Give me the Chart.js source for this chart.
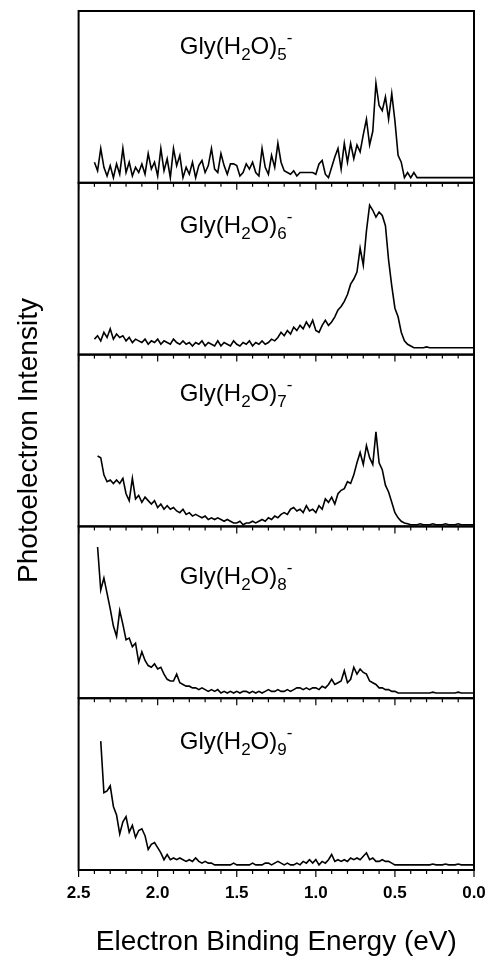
<!DOCTYPE html>
<html>
<head>
<meta charset="utf-8">
<script src="https://cdn.jsdelivr.net/npm/chart.js@4.4.1/dist/chart.umd.min.js"></script>
<style>
  html, body { margin: 0; padding: 0; background: #fff; }
</style>
</head>
<body>
<canvas id="spectra" width="487" height="960"></canvas>
<script>
'use strict';

// electron binding energy (eV), shared by all five spectra
const energies = [
  2.40, 2.38, 2.36, 2.34, 2.32, 2.30, 2.28, 2.26, 2.24, 2.22,
  2.20, 2.18, 2.16, 2.14, 2.12, 2.10, 2.08, 2.06, 2.04, 2.02,
  2.00, 1.98, 1.96, 1.94, 1.92, 1.90, 1.88, 1.86, 1.84, 1.82,
  1.80, 1.78, 1.76, 1.74, 1.72, 1.70, 1.68, 1.66, 1.64, 1.62,
  1.60, 1.58, 1.56, 1.54, 1.52, 1.50, 1.48, 1.46, 1.44, 1.42,
  1.40, 1.38, 1.36, 1.34, 1.32, 1.30, 1.28, 1.26, 1.24, 1.22,
  1.20, 1.18, 1.16, 1.14, 1.12, 1.10, 1.08, 1.06, 1.04, 1.02,
  1.00, 0.98, 0.96, 0.94, 0.92, 0.90, 0.88, 0.86, 0.84, 0.82,
  0.80, 0.78, 0.76, 0.74, 0.72, 0.70, 0.68, 0.66, 0.64, 0.62,
  0.60, 0.58, 0.56, 0.54, 0.52, 0.50, 0.48, 0.46, 0.44, 0.42,
  0.40, 0.38, 0.36, 0.34, 0.32, 0.30, 0.28, 0.26, 0.24, 0.22,
  0.20, 0.18, 0.16, 0.14, 0.12, 0.10, 0.08, 0.06, 0.04, 0.02,
  0.00
];

// intensities, each scaled to its own panel (0 = panel floor, 1 = panel top)
const gly5 = [
  0.12, 0.07, 0.20, 0.09, 0.04, 0.10, 0.03, 0.11, 0.05, 0.20,
  0.06, 0.12, 0.04, 0.09, 0.06, 0.11, 0.05, 0.17, 0.08, 0.12,
  0.04, 0.20, 0.07, 0.14, 0.03, 0.20, 0.10, 0.16, 0.03, 0.09,
  0.05, 0.12, 0.03, 0.10, 0.13, 0.06, 0.10, 0.20, 0.08, 0.06,
  0.17, 0.10, 0.05, 0.11, 0.11, 0.10, 0.04, 0.06, 0.11, 0.08,
  0.12, 0.06, 0.04, 0.20, 0.09, 0.05, 0.16, 0.09, 0.23, 0.12,
  0.07, 0.06, 0.05, 0.07, 0.04, 0.06, 0.06, 0.06, 0.06, 0.06,
  0.05, 0.11, 0.13, 0.05, 0.03, 0.09, 0.15, 0.20, 0.08, 0.23,
  0.12, 0.23, 0.14, 0.22, 0.18, 0.28, 0.37, 0.22, 0.30, 0.58,
  0.45, 0.42, 0.50, 0.37, 0.52, 0.36, 0.16, 0.12, 0.03, 0.06,
  0.03, 0.06, 0.03, 0.03, 0.03, 0.03, 0.03, 0.03, 0.03, 0.03,
  0.03, 0.03, 0.03, 0.03, 0.03, 0.03, 0.03, 0.03, 0.03, 0.03,
  0.03
];

const gly6 = [
  0.09, 0.11, 0.08, 0.13, 0.10, 0.15, 0.09, 0.12, 0.10, 0.11,
  0.08, 0.10, 0.07, 0.09, 0.08, 0.07, 0.09, 0.06, 0.08, 0.07,
  0.09, 0.06, 0.08, 0.07, 0.06, 0.09, 0.07, 0.06, 0.08, 0.06,
  0.07, 0.05, 0.07, 0.06, 0.08, 0.05, 0.07, 0.06, 0.05, 0.08,
  0.05, 0.07, 0.06, 0.05, 0.08, 0.06, 0.05, 0.07, 0.06, 0.08,
  0.05, 0.07, 0.06, 0.08, 0.06, 0.07, 0.09, 0.08, 0.10, 0.13,
  0.11, 0.14, 0.12, 0.16, 0.14, 0.17, 0.15, 0.19, 0.16, 0.20,
  0.14, 0.13, 0.17, 0.20, 0.17, 0.19, 0.22, 0.26, 0.28, 0.31,
  0.35, 0.41, 0.44, 0.48, 0.62, 0.52, 0.72, 0.87, 0.84, 0.80,
  0.83, 0.81, 0.75, 0.55, 0.40, 0.27, 0.22, 0.13, 0.08, 0.06,
  0.05, 0.04, 0.04, 0.04, 0.04, 0.045, 0.04, 0.04, 0.04, 0.04,
  0.04, 0.04, 0.04, 0.04, 0.04, 0.04, 0.04, 0.04, 0.04, 0.04,
  0.04
];

const gly7 = [
  null, 0.41, 0.40, 0.30, 0.26, 0.27, 0.25, 0.27, 0.25, 0.28,
  0.19, 0.15, 0.28, 0.16, 0.18, 0.14, 0.17, 0.15, 0.13, 0.15,
  0.11, 0.13, 0.10, 0.12, 0.10, 0.11, 0.09, 0.08, 0.10, 0.07,
  0.08, 0.06, 0.07, 0.06, 0.05, 0.06, 0.04, 0.05, 0.04, 0.05,
  0.04, 0.03, 0.04, 0.03, 0.02, 0.02, 0.03, 0.01, 0.02, 0.02,
  0.03, 0.02, 0.03, 0.04, 0.03, 0.05, 0.04, 0.06, 0.05, 0.07,
  0.08, 0.07, 0.10, 0.11, 0.09, 0.10, 0.08, 0.12, 0.09, 0.10,
  0.08, 0.12, 0.10, 0.16, 0.14, 0.17, 0.13, 0.19, 0.21, 0.22,
  0.26, 0.25, 0.30, 0.37, 0.43, 0.36, 0.47, 0.40, 0.36, 0.55,
  0.37, 0.33, 0.24, 0.20, 0.14, 0.08, 0.05, 0.03, 0.02, 0.015,
  0.01, 0.01, 0.01, 0.015, 0.01, 0.01, 0.01, 0.015, 0.01, 0.01,
  0.01, 0.015, 0.01, 0.01, 0.01, 0.015, 0.01, 0.01, 0.01, 0.01,
  0.01
];

const gly8 = [
  null, 0.88, 0.63, 0.70, 0.61, 0.52, 0.42, 0.36, 0.51, 0.43,
  0.34, 0.35, 0.30, 0.32, 0.21, 0.27, 0.22, 0.19, 0.18, 0.20,
  0.17, 0.18, 0.14, 0.11, 0.10, 0.10, 0.14, 0.09, 0.08, 0.07,
  0.07, 0.06, 0.06, 0.05, 0.06, 0.05, 0.04, 0.05, 0.04, 0.05,
  0.03, 0.04, 0.03, 0.04, 0.03, 0.04, 0.03, 0.04, 0.04, 0.03,
  0.04, 0.03, 0.04, 0.03, 0.04, 0.05, 0.04, 0.04, 0.05, 0.04,
  0.04, 0.05, 0.04, 0.05, 0.06, 0.06, 0.05, 0.06, 0.05, 0.06,
  0.06, 0.05, 0.07, 0.06, 0.08, 0.11, 0.08, 0.09, 0.10, 0.16,
  0.09, 0.11, 0.18, 0.14, 0.17, 0.15, 0.14, 0.10, 0.09, 0.08,
  0.06, 0.06, 0.05, 0.05, 0.04, 0.04, 0.03, 0.03, 0.03, 0.03,
  0.03, 0.03, 0.03, 0.03, 0.03, 0.03, 0.03, 0.035, 0.03, 0.03,
  0.03, 0.03, 0.03, 0.03, 0.03, 0.035, 0.03, 0.03, 0.03, 0.03,
  0.03
];

const gly9 = [
  null, null, 0.75, 0.45, 0.46, 0.49, 0.37, 0.32, 0.21, 0.28,
  0.31, 0.22, 0.26, 0.19, 0.23, 0.24, 0.20, 0.12, 0.15, 0.16,
  0.13, 0.10, 0.06, 0.09, 0.06, 0.07, 0.06, 0.07, 0.06, 0.05,
  0.06, 0.05, 0.07, 0.05, 0.04, 0.05, 0.04, 0.04, 0.03, 0.03,
  0.03, 0.03, 0.03, 0.03, 0.04, 0.03, 0.03, 0.03, 0.03, 0.03,
  0.04, 0.03, 0.03, 0.03, 0.04, 0.04, 0.03, 0.04, 0.05, 0.04,
  0.03, 0.04, 0.03, 0.03, 0.04, 0.03, 0.05, 0.04, 0.06, 0.04,
  0.06, 0.03, 0.05, 0.04, 0.06, 0.09, 0.05, 0.06, 0.05, 0.06,
  0.05, 0.07, 0.06, 0.07, 0.06, 0.08, 0.10, 0.06, 0.07, 0.05,
  0.05, 0.06, 0.05, 0.05, 0.04, 0.03, 0.03, 0.03, 0.03, 0.03,
  0.03, 0.03, 0.03, 0.03, 0.03, 0.03, 0.03, 0.035, 0.03, 0.03,
  0.03, 0.035, 0.03, 0.03, 0.03, 0.035, 0.03, 0.03, 0.03, 0.03,
  0.03
];

const waterCounts = [5, 6, 7, 8, 9];
const spectra = [gly5, gly6, gly7, gly8, gly9];
const xTicks = [0, 0.5, 1.0, 1.5, 2.0, 2.5];

const FONT = '"Liberation Sans", Arial, Helvetica, sans-serif';
const panelIds = waterCounts.map(n => 'p' + n);
// where each panel's formula sits (energy of its left edge, height of its baseline)
const labelAt = { energy: 1.86, levels: [0.75, 0.71, 0.73, 0.665, 0.705] };

// "Gly(H2O)n-" written with sub/superscripts
function drawFormula(ctx, n, x, y) {
  let cx = x;
  const part = (txt, size, dy) => {
    ctx.font = size + 'px ' + FONT;
    ctx.fillText(txt, cx, y + dy);
    cx += ctx.measureText(txt).width;
  };
  part('Gly(H', 24, 0);
  part('2', 17, 6);
  part('O)', 24, 0);
  part(String(n), 17, 6);
  part('-', 17, -11);
}

const panelFrames = {
  id: 'panelFrames',
  afterDraw(chart) {
    const ctx = chart.ctx;
    const xs = chart.scales.x;
    const area = chart.chartArea;
    ctx.save();
    ctx.strokeStyle = '#000';
    ctx.fillStyle = '#000';
    panelIds.forEach((id, i) => {
      const s = chart.scales[id];
      ctx.lineWidth = 2;
      ctx.strokeRect(area.left, s.top, area.right - area.left, s.bottom - s.top);
      // energy ticks hang down from every panel floor
      ctx.lineWidth = 1.2;
      for (let k = 0; k <= 25; k++) {
        const px = xs.getPixelForValue(k / 10);
        const len = k % 5 === 0 ? 7 : 4;
        ctx.beginPath();
        ctx.moveTo(px, s.bottom);
        ctx.lineTo(px, s.bottom + len);
        ctx.stroke();
      }
      ctx.textAlign = 'left';
      ctx.textBaseline = 'alphabetic';
      drawFormula(ctx, waterCounts[i], xs.getPixelForValue(labelAt.energy), s.getPixelForValue(labelAt.levels[i]));
    });
    ctx.restore();
  }
};

const yScales = {};
panelIds.forEach((id, i) => {
  yScales[id] = {
    type: 'linear',
    position: 'left',
    stack: 'panels',
    stackWeight: 1,
    weight: 10 - i,
    min: 0,
    max: 1,
    grid: { display: false, drawTicks: false },
    border: { display: false },
    ticks: { display: false },
    title: {
      display: i === 2,
      text: 'Photoelectron Intensity',
      color: '#000',
      font: { family: FONT, size: 28 },
      padding: { top: 12, bottom: 33 }
    }
  };
});

const datasets = spectra.map((vals, i) => ({
  label: 'Gly(H2O)' + waterCounts[i] + '-',
  data: energies.map((e, j) => ({ x: e, y: vals[j] })),
  yAxisID: panelIds[i],
  borderColor: '#000',
  borderWidth: 1.6,
  pointRadius: 0,
  tension: 0,
  fill: false
}));

new Chart(document.getElementById('spectra'), {
  type: 'line',
  data: { datasets: datasets },
  options: {
    responsive: false,
    animation: false,
    devicePixelRatio: 1,
    layout: { padding: { top: 11, right: 13, left: 0, bottom: 0 } },
    plugins: {
      legend: { display: false },
      tooltip: { enabled: false }
    },
    scales: Object.assign({
      x: {
        type: 'linear',
        position: 'bottom',
        reverse: true,
        min: 0,
        max: 2.5,
        afterBuildTicks: axis => { axis.ticks = xTicks.map(v => ({ value: v })); },
        grid: { display: false, drawTicks: false },
        border: { display: false },
        ticks: {
          color: '#000',
          padding: 13,
          maxRotation: 0,
          autoSkip: false,
          font: { family: FONT, size: 17, weight: 'bold' },
          callback: v => v.toFixed(1)
        },
        title: {
          display: true,
          text: 'Electron Binding Energy (eV)',
          color: '#000',
          font: { family: FONT, size: 28 },
          padding: { top: 9, bottom: 1 }
        }
      }
    }, yScales)
  },
  plugins: [panelFrames]
});
</script>
</body>
</html>
